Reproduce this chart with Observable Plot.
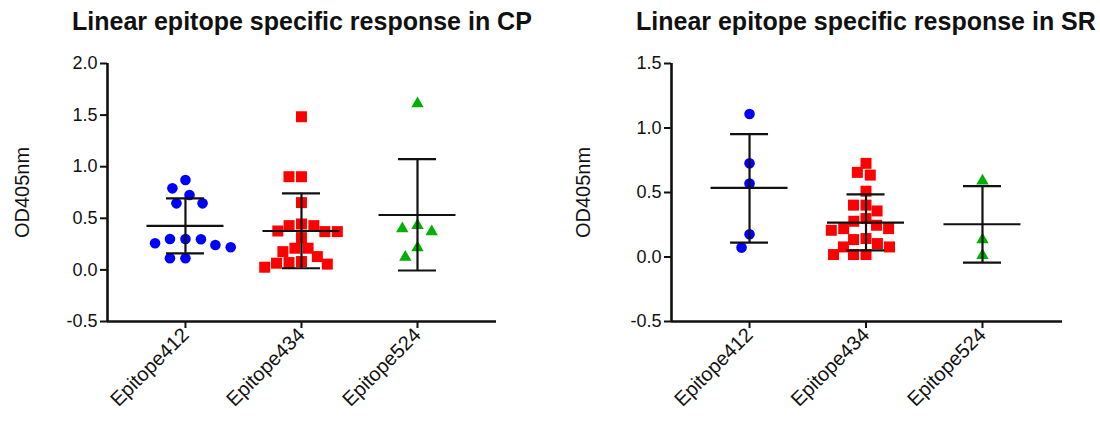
<!DOCTYPE html>
<html><head><meta charset="utf-8">
<script src="https://cdn.jsdelivr.net/npm/d3@7"></script>
<script src="https://cdn.jsdelivr.net/npm/@observablehq/plot@0.6"></script>
<style>
body{margin:0;background:#fff;font-family:"Liberation Sans",Arial,sans-serif;}
#wrap{position:relative;width:1100px;height:421px;overflow:hidden;}
.panel{position:absolute;top:0;width:550px;height:421px;}
.title{position:absolute;top:9px;font-size:25px;line-height:25px;font-weight:bold;white-space:nowrap;color:#111;font-family:"Liberation Sans",Arial,sans-serif;}
svg [aria-label$="axis tick"]{stroke-width:2px;}
svg [aria-label="y-axis tick label"]{font-size:18px;}
svg [aria-label="x-axis tick label"]{font-size:20px;}
</style></head><body><div id="wrap"></div>
<script>
// ---------- data ----------
const categories = ["Epitope412", "Epitope434", "Epitope524"];
const titles = ["Linear epitope specific response in CP", "Linear epitope specific response in SR"];
const yLabel = "OD405nm";

// CP panel
const cpEpitope412 = [0.871, 0.79, 0.726, 0.645, 0.645, 0.30, 0.30, 0.297, 0.258, 0.242, 0.22, 0.113, 0.113];
const cpEpitope434 = [1.484, 0.903, 0.903, 0.652, 0.445, 0.429, 0.429, 0.377, 0.371, 0.371, 0.313, 0.21, 0.21, 0.177, 0.129, 0.081, 0.071, 0.065, 0.056, 0.026];
const cpEpitope524 = [1.61, 0.43, 0.40, 0.37, 0.216, 0.123];
const cpMean = [0.426, 0.377, 0.532];
const cpUpper = [0.694, 0.742, 1.074];
const cpLower = [0.161, 0.016, -0.006];
const cpTicks = [-0.5, 0, 0.5, 1, 1.5, 2];

// SR panel
const srEpitope412 = [1.109, 0.726, 0.570, 0.176, 0.073];
const srEpitope434 = [0.726, 0.656, 0.635, 0.51, 0.402, 0.402, 0.357, 0.298, 0.277, 0.246, 0.22, 0.22, 0.207, 0.143, 0.135, 0.104, 0.078, 0.078, 0.019, 0.019, 0.019];
const srEpitope524 = [0.59, 0.135, 0.013];
const srMean = [0.536, 0.267, 0.254];
const srUpper = [0.953, 0.485, 0.549];
const srLower = [0.112, 0.052, -0.044];
const srTicks = [-0.5, 0, 0.5, 1, 1.5];

// ---------- styling ----------
const colors = ["#0000ff", "#ff0000", "#00b000"];
const symbols = ["circle", "square", "triangle"];
const radii = [5.3, 6.2, 4.6];
const spacing = [15.5, 12.5, 15.5];

const H = 421, MT = 63, MB = 100;

function swarm(values, pxPerUnit, D) {
  const placed = [], out = [];
  for (const v of values) {
    const y = v * pxPerUnit;
    const cands = [0];
    for (const p of placed) {
      const dy = Math.abs(p.y - y);
      if (dy < D) { const dx = Math.sqrt(D * D - dy * dy); cands.push(p.x - dx, p.x + dx); }
    }
    cands.sort((a, b) => Math.abs(a) - Math.abs(b) || a - b);
    let x = 0;
    for (const c of cands) {
      if (placed.every(p => (p.x - c) ** 2 + (p.y - y) ** 2 >= D * D - 1e-6)) { x = c; break; }
    }
    placed.push({x, y}); out.push(x);
  }
  return out;
}

function makePanel(cfg) {
  const W = 550;
  const frameW = W - cfg.marginLeft - cfg.marginRight;
  const frameH = H - MT - MB;
  const xPx = frameW / (cfg.xDomain[1] - cfg.xDomain[0]);
  const yPx = frameH / (cfg.yDomain[1] - cfg.yDomain[0]);
  const points = [];
  cfg.series.forEach((vals, i) => {
    const offs = swarm(vals, yPx, spacing[i]);
    vals.forEach((v, k) => points.push({cat: i, value: v, x: i + offs[k] / xPx}));
  });
  const summary = categories.map((c, i) => ({i, mean: cfg.mean[i], hi: cfg.upper[i], lo: cfg.lower[i]}));
  const meanHalf = 38.5 / xPx, capHalf = 19 / xPx;
  const marks = [];
  categories.forEach((c, i) => {
    marks.push(Plot.dot(points.filter(d => d.cat === i), {
      x: "x", y: "value", symbol: () => symbols[i], r: radii[i], fill: colors[i], stroke: "none"
    }));
  });
  marks.push(
    Plot.ruleY(summary, {y: "mean", x1: d => d.i - meanHalf, x2: d => d.i + meanHalf, stroke: "#111", strokeWidth: 2.2}),
    Plot.ruleY(summary, {y: "hi", x1: d => d.i - capHalf, x2: d => d.i + capHalf, stroke: "#111", strokeWidth: 2.2}),
    Plot.ruleY(summary, {y: "lo", x1: d => d.i - capHalf, x2: d => d.i + capHalf, stroke: "#111", strokeWidth: 2.2}),
    Plot.ruleX(summary, {x: "i", y1: "lo", y2: "hi", stroke: "#111", strokeWidth: 2.2}),
    Plot.ruleY([cfg.yDomain[0]], {stroke: "#111", strokeWidth: 2.6}),
    Plot.ruleX([cfg.xDomain[0]], {stroke: "#111", strokeWidth: 2.6}),
    Plot.text([yLabel], {text: d => d, frameAnchor: "left", textAnchor: "middle", lineAnchor: "middle", rotate: -90, dx: cfg.labelDx, fontSize: 20, fill: "#111"})
  );
  return Plot.plot({
    width: W, height: H,
    marginLeft: cfg.marginLeft, marginRight: cfg.marginRight, marginTop: MT, marginBottom: MB,
    style: {fontSize: "18px", fontFamily: "'Liberation Sans', Arial, sans-serif", color: "#111", background: "#fff", overflow: "visible"},
    x: {type: "linear", domain: cfg.xDomain, ticks: [0, 1, 2], tickFormat: i => categories[i], tickRotate: -45, tickSize: 7, tickPadding: 3, label: null},
    y: {domain: cfg.yDomain, ticks: cfg.yTicks, tickFormat: d => d.toFixed(1), tickSize: 7, tickPadding: 3, label: null},
    marks
  });
}

const wrap = document.getElementById("wrap");
const panels = [
  {left: 0, titleX: 72, series: [cpEpitope412, cpEpitope434, cpEpitope524], mean: cpMean, upper: cpUpper, lower: cpLower,
   yDomain: [-0.5, 2], yTicks: cpTicks, marginLeft: 107, marginRight: 54, xDomain: [-0.672, 2.681], labelDx: -85},
  {left: 550, titleX: 86, series: [srEpitope412, srEpitope434, srEpitope524], mean: srMean, upper: srUpper, lower: srLower,
   yDomain: [-0.5, 1.5], yTicks: srTicks, marginLeft: 121, marginRight: 38, xDomain: [-0.670, 2.687], labelDx: -88}
];
panels.forEach((cfg, k) => {
  const div = document.createElement("div");
  div.className = "panel";
  div.style.left = cfg.left + "px";
  div.appendChild(makePanel(cfg));
  const t = document.createElement("div");
  t.className = "title";
  t.style.left = cfg.titleX + "px";
  t.textContent = titles[k];
  div.appendChild(t);
  wrap.appendChild(div);
});
</script></body></html>
